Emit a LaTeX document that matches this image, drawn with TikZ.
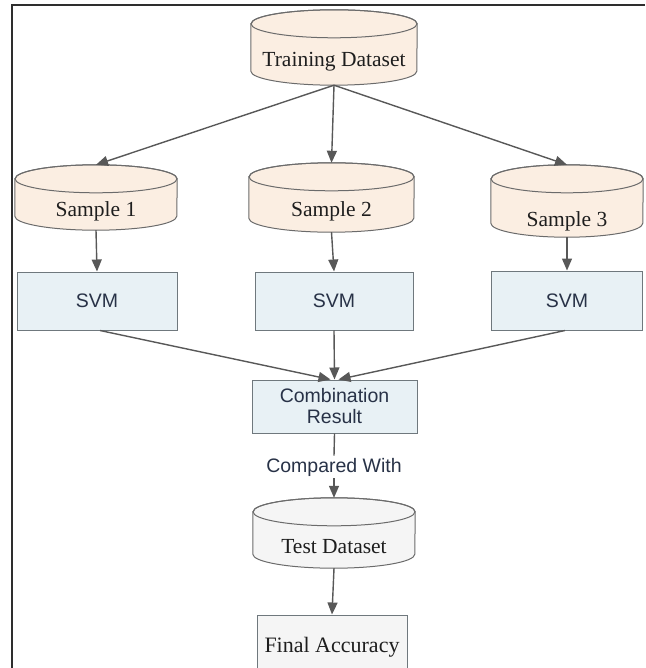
\documentclass[tikz,border=0pt]{standalone}
\usepackage{fontspec}
\newfontfamily\serifface{Liberation Serif}
\newfontfamily\sansface{Liberation Sans}
\usetikzlibrary{arrows.meta,calc,backgrounds}

\definecolor{drumfill}{HTML}{FBEEE2}
\definecolor{drumedge}{HTML}{6B6B6B}
\definecolor{boxfill}{HTML}{E8F1F5}
\definecolor{boxedge}{HTML}{6F787D}
\definecolor{greyfill}{HTML}{F5F5F5}
\definecolor{linkcol}{HTML}{585858}
\definecolor{framecol}{HTML}{2E2E2E}
\definecolor{sanstext}{HTML}{283247}
\definecolor{seriftext}{HTML}{1E1E1E}

% Outline of a drum (database cylinder) around a node:
% #1 node name, #2 half width, #3 cap radius, #4 fill colour
\newcommand\drawdrum[4]{%
  \path[draw=drumedge, line width=1pt, fill=#4]
    ([yshift=#3]#1.north west) -- ([yshift=#3]#1.south west)
    arc[start angle=180, end angle=360, x radius=#2, y radius=#3]
    -- ([yshift=#3]#1.north east)
    arc[start angle=0, end angle=180, x radius=#2, y radius=#3] -- cycle;
  \draw[drumedge, line width=1pt] ([yshift=#3]#1.north) ellipse[x radius=#2, y radius=#3];
  \coordinate (#1-top) at ([yshift=2*#3]#1.north);
}

\tikzset{
  drum/.style={inner sep=0pt, text=seriftext,
    font=\serifface\fontsize{21.5}{24}\selectfont},
  svmbox/.style={draw=boxedge, fill=boxfill, line width=1pt, inner sep=0pt,
    text=sanstext, font=\sansface\fontsize{19.5}{21}\selectfont, align=center},
  plainbox/.style={draw=boxedge, fill=greyfill, line width=1pt, inner sep=0pt,
    text=seriftext, font=\serifface\fontsize{22}{24}\selectfont},
  link/.style={draw=linkcol, line width=1.4pt,
    -{Triangle[length=12pt, width=10pt]}},
  plainlink/.style={draw=linkcol, line width=1.4pt},
}

\begin{document}
\begin{tikzpicture}[x=1pt, y=1pt]
\useasboundingbox (0,0) rectangle (645,-668);

% frame
\draw[framecol, line width=2pt] (12,-668) -- (12,-5) -- (645,-5);

% data stores
\node[drum, minimum width=166pt, minimum height=47pt] (td) at (334,-61.5) {Training Dataset};
\node[drum, minimum width=162pt, minimum height=37pt] (s1) at (96,-211.5) {Sample 1};
\node[drum, minimum width=165pt, minimum height=41pt] (s2) at (331.5,-211.5) {Sample 2};
\node[drum, minimum width=152pt, minimum height=44pt] (s3) at (567,-215) {\raisebox{-6pt}[\height][\depth]{Sample 3}};
\node[drum, minimum width=162pt, minimum height=42pt] (test) at (334,-547) {Test Dataset};

\begin{scope}[on background layer]
  \drawdrum{td}{83pt}{14pt}{drumfill}
  \drawdrum{s1}{81pt}{14pt}{drumfill}
  \drawdrum{s2}{82.5pt}{14pt}{drumfill}
  \drawdrum{s3}{76pt}{14pt}{drumfill}
  \drawdrum{test}{81pt}{14pt}{greyfill}
\end{scope}

% classifiers and results
\node[svmbox, minimum width=160pt, minimum height=58pt] (svm1) at (97,-301) {SVM};
\node[svmbox, minimum width=158pt, minimum height=58pt] (svm2) at (334,-301) {SVM};
\node[svmbox, minimum width=151pt, minimum height=59pt] (svm3) at (567,-300.5) {SVM};
\node[svmbox, minimum width=165pt, minimum height=53pt] (comb) at (334.5,-406.5) {Combination\\Result};
\node[inner sep=2pt, text=sanstext, font=\sansface\fontsize{19.5}{21}\selectfont]
  (cw) at (334,-467) {Compared With};
\begin{scope}
  \clip (0,0) rectangle (645,-668);
  \node[plainbox, minimum width=150pt, minimum height=65pt] (final) at (332,-647.5) {Final Accuracy};
\end{scope}

% connectors
\draw[link] (td.south) -- (s1-top);
\draw[link] (td.south) -- (s2-top);
\draw[link] (td.south) -- (s3-top);
\draw[link] (s1.south) -- (svm1.north);
\draw[link] (s2.south) -- (svm2.north);
\draw[link] (s3.south) -- (svm3.north);
\draw[link] ([xshift=3pt]svm1.south) -- ([xshift=-4pt]comb.north);
\draw[link] (svm2.south) -- (comb.north);
\draw[link] ([xshift=-2pt]svm3.south) -- ([xshift=4pt]comb.north);
\draw[plainlink] (comb.south) -- (cw.north);
\draw[link] (cw.south) -- (test-top);
\draw[link] (test.south) -- (final.north);
\end{tikzpicture}
\end{document}
